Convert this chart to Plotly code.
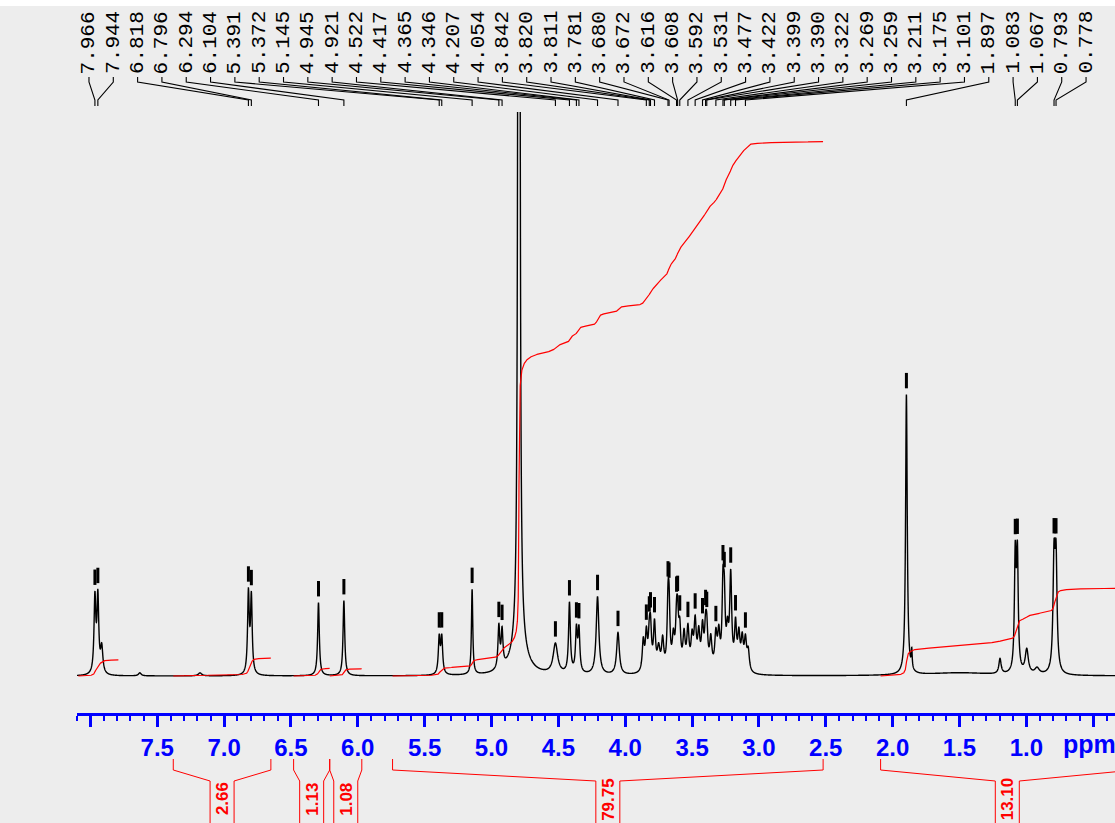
import numpy as np
import plotly.graph_objects as go

# ---------------- peak-picked resonances (ppm, amplitude a.u., half-width ppm) ----------------
pick_ppm = [7.966, 7.944, 6.818, 6.796, 6.294, 6.104, 5.391, 5.372, 5.145, 4.945,
            4.921, 4.522, 4.417, 4.365, 4.346, 4.207, 4.054, 3.842, 3.820, 3.811,
            3.781, 3.680, 3.672, 3.616, 3.608, 3.592, 3.531, 3.477, 3.422, 3.399,
            3.390, 3.322, 3.269, 3.259, 3.211, 3.175, 3.101, 1.897, 1.083, 1.067,
            0.793, 0.778]
pick_height = [75, 75, 80, 76, 73, 75, 36, 36, 85, 42,
               36, 30, 70, 42, 42, 78, 42, 36, 28, 38,
               46, 58, 54, 42, 38, 36, 40, 46, 40, 34,
               34, 34, 74, 60, 93, 44, 30, 280, 113, 113,
               107, 107]
pick_hwhm = [0.008, 0.008, 0.0075, 0.0075, 0.0075, 0.0075, 0.008, 0.008, 0.006, 0.008,
             0.008, 0.02, 0.008, 0.008, 0.008, 0.012, 0.012, 0.009, 0.009, 0.009,
             0.009, 0.008, 0.008, 0.009, 0.009, 0.009, 0.01, 0.01, 0.01, 0.009,
             0.009, 0.01, 0.008, 0.008, 0.009, 0.009, 0.01, 0.0074, 0.0075, 0.0075,
             0.009, 0.009]

# ---------------- other resonances (HDO, overlapped multiplet lines, minor signals) ----------------
other_ppm = [7.915, 7.63, 7.18, 4.795, 4.795, 3.865, 3.750, 3.720, 3.640, 3.560,
             3.500, 3.450, 3.360, 3.300, 3.235, 3.150, 3.125, 3.080, 1.857, 1.500,
             1.197, 0.997, 0.920]
other_height = [26, 3, 3, 7300, 30, 30, 22, 30, 30, 34,
                30, 34, 30, 34, 34, 34, 30, 20, 18, 3,
                15, 24, 6]
other_hwhm = [0.01, 0.012, 0.015, 0.0028, 0.06, 0.009, 0.012, 0.01, 0.01, 0.01,
              0.01, 0.01, 0.01, 0.01, 0.01, 0.01, 0.01, 0.01, 0.004, 0.3,
              0.01, 0.014, 0.02]

# ---------------- integral regions ----------------
int_from = [8.09, 7.38, 6.48, 6.21, 5.74, 2.09]
int_to = [7.79, 6.65, 6.21, 5.97, 2.52, 0.195]
int_value = [2.40, 2.66, 1.13, 1.08, 79.75, 13.10]
int_labelled = [False, True, True, True, True, True]

# ---------------- axis ticks ----------------
tick_ppm = [8.0, 7.5, 7.0, 6.5, 6.0, 5.5, 5.0, 4.5, 4.0, 3.5, 3.0, 2.5, 2.0, 1.5, 1.0, 0.5]
tick_text = ["", "7.5", "7.0", "6.5", "6.0", "5.5", "5.0", "4.5", "4.0", "3.5",
             "3.0", "2.5", "2.0", "1.5", "1.0", ""]

# ---------------- layout constants ----------------
W, H = 1115, 823
X_RANGE = [8.1, 0.337]
PLOT_L = 77
PX_PER_PPM = (W - PLOT_L) / (X_RANGE[0] - X_RANGE[1])
INTEGRAL_GAIN = 6.70          # a.u. per integral unit
BLUE = "#0000FF"
RED = "#FF0000"
BG = "#EDEDED"

# ---------------- build spectrum ----------------
ppm = np.arange(X_RANGE[0], 0.15, -0.0005)
spec = np.zeros_like(ppm)
for c, h, g in zip(pick_ppm + other_ppm, pick_height + other_height, pick_hwhm + other_hwhm):
    spec += h / (1.0 + ((ppm - c) / g) ** 2)


def spec_at(p):
    return float(np.interp(p, ppm[::-1], spec[::-1]))


fig = go.Figure()

fig.add_trace(go.Scatter(x=ppm, y=spec, mode="lines", xaxis="x", yaxis="y",
                         line=dict(color="black", width=1.4, simplify=False),
                         hoverinfo="skip", showlegend=False))

# integral curves
for p0, p1, val in zip(int_from, int_to, int_value):
    m = (ppm <= p0) & (ppm >= p1)
    xs, ys = ppm[m], spec[m]
    steps = 0.5 * (ys[1:] + ys[:-1]) * np.abs(np.diff(xs))
    cum = np.concatenate([[0.0], np.cumsum(steps)])
    curve = cum / cum[-1] * val * INTEGRAL_GAIN
    fig.add_trace(go.Scatter(x=xs, y=curve, mode="lines", xaxis="x", yaxis="y",
                             line=dict(color=RED, width=1.2), hoverinfo="skip",
                             showlegend=False))

# peak-pick markers above each labelled peak
fig.add_trace(go.Scatter(x=pick_ppm, y=[spec_at(p) + 14 for p in pick_ppm],
                         mode="markers", xaxis="x", yaxis="y",
                         marker=dict(symbol="line-ns", size=11, color="black",
                                     line=dict(color="black", width=3)),
                         hoverinfo="skip", showlegend=False))

# peak labels across the top with leader lines
slot_ppm = np.linspace(8.0105, 0.5535, len(pick_ppm))
lx, ly = [], []
annotations = []
for p, s in zip(pick_ppm, slot_ppm):
    lx += [s, s, p, p, None]
    ly += [77, 82, 100, 106, None]
    annotations.append(dict(x=s, y=75, xref="x", yref="y2", text=f"{p:.3f}",
                            showarrow=False, textangle=-90, xanchor="center",
                            yanchor="bottom", borderpad=0,
                            font=dict(family="Liberation Mono", size=21, color="black")))
fig.add_trace(go.Scatter(x=lx, y=ly, mode="lines", xaxis="x", yaxis="y2",
                         line=dict(color="black", width=1.1), hoverinfo="skip",
                         showlegend=False))

# integral brackets under the axis
half_box = 12 / PX_PER_PPM
bx, by = [], []
for p0, p1, val, lab in zip(int_from, int_to, int_value, int_labelled):
    if not lab:
        continue
    pc = 0.5 * (p0 + p1)
    bx += [p0, p0, pc + half_box, pc + half_box, None,
           p1, p1, pc - half_box, pc - half_box, None]
    by += [759, 770, 781, 830, None, 759, 770, 781, 830, None]
    annotations.append(dict(x=pc, y=799, xref="x", yref="y3", text=f"{val:.2f}",
                            showarrow=False, textangle=-90, xanchor="center",
                            yanchor="middle", borderpad=0,
                            font=dict(family="Liberation Sans", size=17, color=RED,
                                      weight="bold")))
fig.add_trace(go.Scatter(x=bx, y=by, mode="lines", xaxis="x", yaxis="y3",
                         line=dict(color=RED, width=1), hoverinfo="skip",
                         showlegend=False))

# axis unit
annotations.append(dict(x=X_RANGE[0] - (1062 - PLOT_L) / PX_PER_PPM, y=744, xref="x",
                        yref="y3", text="ppm", showarrow=False, xanchor="left",
                        yanchor="middle", borderpad=0,
                        font=dict(family="Liberation Sans", size=25, color=BLUE,
                                  weight="bold")))

fig.update_layout(
    width=W, height=H,
    margin=dict(l=PLOT_L, r=0, t=0, b=0),
    paper_bgcolor=BG, plot_bgcolor=BG,
    showlegend=False,
    annotations=annotations,
    shapes=[dict(type="rect", xref="paper", yref="paper", x0=-0.1, x1=1.0,
                 y0=1 - 6 / H, y1=1.0, fillcolor="white", line=dict(width=0),
                 layer="below")],
    xaxis=dict(range=X_RANGE, anchor="y", showgrid=False, zeroline=False,
               showline=True, linecolor=BLUE, linewidth=2.5,
               tickmode="array", tickvals=tick_ppm, ticktext=tick_text,
               ticks="outside", ticklen=11, tickwidth=2.5, tickcolor=BLUE,
               ticklabelstandoff=0,
               tickfont=dict(family="Liberation Sans", size=24, color=BLUE,
                             weight="bold"),
               minor=dict(dtick=0.1, tick0=0, ticks="outside", ticklen=5,
                          tickwidth=2, tickcolor=BLUE)),
    yaxis=dict(domain=[110 / H, 711 / H], range=[-37, 564], visible=False,
               showgrid=False, zeroline=False),
    yaxis2=dict(domain=[711 / H, 1.0], range=[112, 0], visible=False,
                showgrid=False, zeroline=False),
    yaxis3=dict(domain=[0.0, 110 / H], range=[823, 713], visible=False,
                showgrid=False, zeroline=False),
)

fig.write_html("out.html")
